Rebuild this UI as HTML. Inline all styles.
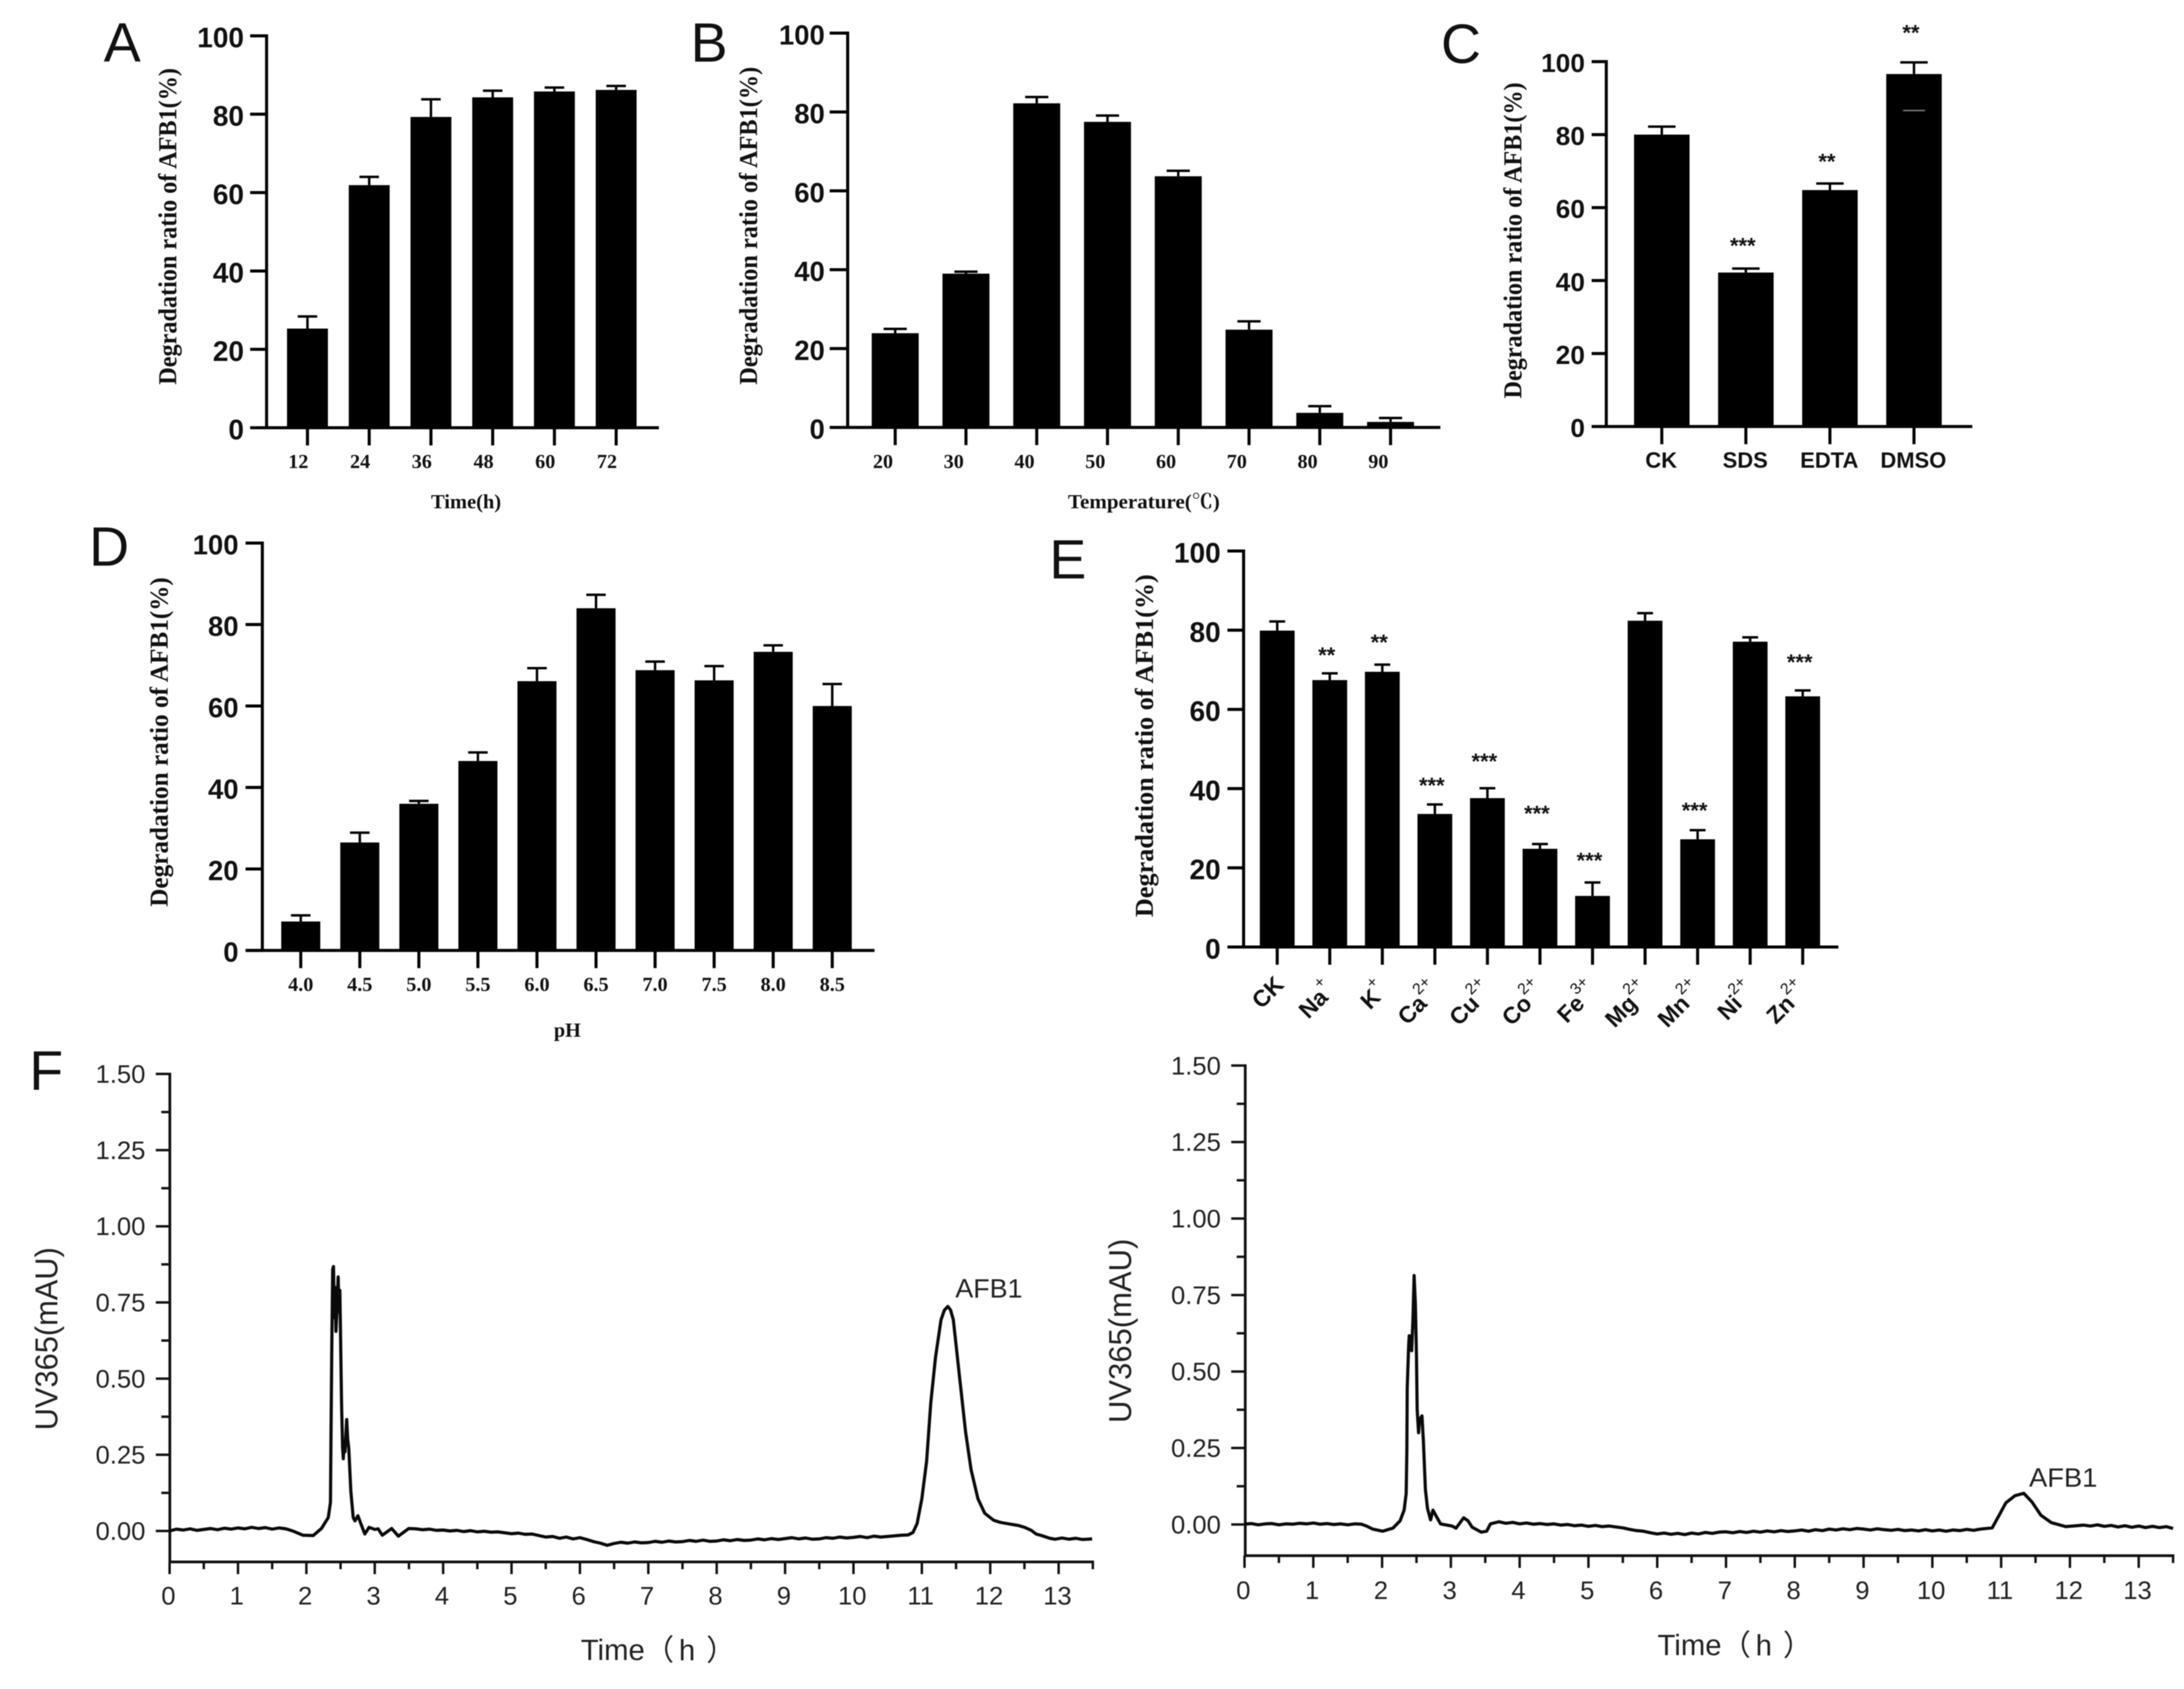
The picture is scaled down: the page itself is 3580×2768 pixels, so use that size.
<!DOCTYPE html>
<html lang="en">
<head>
<meta charset="utf-8">
<title>AFB1 degradation figure</title>
<style>
html,body{margin:0;padding:0;background:#fff;}
svg{display:block;filter:blur(0.7px);}
.letter{font:400 91px "Liberation Sans",sans-serif;fill:#111;}
.ytitle{font:700 42px "Liberation Serif","Noto Serif CJK SC",serif;fill:#111;text-anchor:middle;dominant-baseline:central;}
.xtitle{font:700 33px "Liberation Serif","Noto Serif CJK SC",serif;fill:#111;text-anchor:middle;dominant-baseline:central;}
.uvtitle{font:400 52px "Liberation Sans",sans-serif;fill:#222;text-anchor:middle;dominant-baseline:central;}
.timetitle{font:400 48px "Liberation Sans","Noto Sans CJK SC",sans-serif;fill:#222;dominant-baseline:central;}
.peak{font:400 44px "Liberation Sans",sans-serif;fill:#222;dominant-baseline:central;}
</style>
</head>
<body>
<svg id="figure" xmlns="http://www.w3.org/2000/svg" width="3580" height="2768" viewBox="0 0 3580 2768">
  <rect x="0" y="0" width="3580" height="2768" fill="#fff"/>

  <text class="letter" x="170" y="101">A</text>
  <text class="letter" x="1132" y="101">B</text>
  <text class="letter" x="2362" y="103">C</text>
  <text class="letter" x="146" y="927">D</text>
  <text class="letter" x="1720" y="948">E</text>
  <text class="letter" x="48" y="1786">F</text>

  <text class="ytitle" transform="rotate(-90 276 371)" x="276" y="371" textLength="519" lengthAdjust="spacingAndGlyphs">Degradation ratio of AFB1(%)</text>
  <text class="ytitle" transform="rotate(-90 1228 370)" x="1228" y="370" textLength="521" lengthAdjust="spacingAndGlyphs">Degradation ratio of AFB1(%)</text>
  <text class="ytitle" transform="rotate(-90 2481 394)" x="2481" y="394" textLength="518" lengthAdjust="spacingAndGlyphs">Degradation ratio of AFB1(%)</text>
  <text class="ytitle" transform="rotate(-90 262 1216)" x="262" y="1216" textLength="540" lengthAdjust="spacingAndGlyphs">Degradation ratio of AFB1(%)</text>
  <text class="ytitle" transform="rotate(-90 1877 1222)" x="1877" y="1222" textLength="562" lengthAdjust="spacingAndGlyphs">Degradation ratio of AFB1(%)</text>

  <text class="xtitle" x="764" y="823" textLength="115" lengthAdjust="spacingAndGlyphs">Time(h)</text>
  <text class="xtitle" x="1875" y="823" textLength="249" lengthAdjust="spacingAndGlyphs">Temperature(℃)</text>
  <text class="xtitle" x="930" y="1689">pH</text>

  <text class="uvtitle" transform="rotate(-90 77 2194)" x="77" y="2194" textLength="300" lengthAdjust="spacingAndGlyphs">UV365(mAU)</text>
  <text class="uvtitle" transform="rotate(-90 1837 2181)" x="1837" y="2181" textLength="302" lengthAdjust="spacingAndGlyphs">UV365(mAU)</text>
  <text class="timetitle" x="952" y="2705">Time（<tspan dx="8">h</tspan><tspan dx="18">）</tspan></text>
  <text class="timetitle" x="2717" y="2697">Time（<tspan dx="8">h</tspan><tspan dx="18">）</tspan></text>
  <text class="peak" x="1566" y="2112" textLength="110" lengthAdjust="spacingAndGlyphs">AFB1</text>
  <text class="peak" x="3326" y="2422" textLength="112" lengthAdjust="spacingAndGlyphs">AFB1</text>
</svg>

<script>
// ---------- Shared tick labels ----------
const percentTicks = [0, 20, 40, 60, 80, 100];
const uvTicks = [0, 0.25, 0.5, 0.75, 1, 1.25, 1.5];
const uvMinorTicks = [0.125, 0.375, 0.625, 0.875, 1.125, 1.375];
const timeTicks = [0, 1, 2, 3, 4, 5, 6, 7, 8, 9, 10, 11, 12, 13];
const timeMinorTicks = [0.5, 1.5, 2.5, 3.5, 4.5, 5.5, 6.5, 7.5, 8.5, 9.5, 10.5, 11.5, 12.5, 13.5];

// ---------- Panel A ----------
const timeCategories = ['12', '24', '36', '48', '60', '72'];
const timeValues = [25.3, 61.9, 79.3, 84.3, 85.8, 86.2];
const timeErrorTops = [28.4, 64, 83.8, 86, 86.8, 87.2];

// ---------- Panel B ----------
const tempCategories = ['20', '30', '40', '50', '60', '70', '80', '90'];
const tempValues = [23.9, 39, 82.2, 77.5, 63.7, 24.8, 3.7, 1.4];
const tempErrorTops = [25, 39.5, 83.8, 79.1, 65.1, 26.9, 5.4, 2.4];

// ---------- Panel C ----------
const agentCategories = ['CK', 'SDS', 'EDTA', 'DMSO'];
const agentValues = [80, 42.2, 64.8, 96.6];
const agentErrorTops = [82.2, 43.3, 66.6, 99.8];
const agentStars = ['', '***', '**', '**'];
const agentStarLevels = [0, 50.8, 73.9, 109.2];
const dmsoLowerCap = 86.6;

// ---------- Panel D ----------
const phCategories = ['4.0', '4.5', '5.0', '5.5', '6.0', '6.5', '7.0', '7.5', '8.0', '8.5'];
const phValues = [7.1, 26.5, 36, 46.5, 66.1, 84, 68.8, 66.3, 73.3, 60];
const phErrorTops = [8.6, 28.9, 36.7, 48.6, 69.3, 87.3, 70.9, 69.8, 74.9, 65.4];

// ---------- Panel E ----------
const ionNames = ['CK', 'Na', 'K', 'Ca', 'Cu', 'Co', 'Fe', 'Mg', 'Mn', 'Ni', 'Zn'];
const ionCharges = ['', '+', '+', '2+', '2+', '2+', '3+', '2+', '2+', '2+', '2+'];
const ionValues = [79.9, 67.4, 69.5, 33.6, 37.6, 24.8, 12.9, 82.4, 27.2, 77.1, 63.3];
const ionErrorTops = [82.2, 69.1, 71.3, 36, 40.1, 26, 16.3, 84.3, 29.5, 78.2, 64.8];
const ionStars = ['', '**', '**', '***', '***', '***', '***', '', '***', '', '***'];
const ionStarLevels = [0, 74.9, 78.1, 42, 48.1, 34.9, 23, 0, 35.7, 0, 73.1];

// ---------- Panel F left chromatogram ----------
const chromLeftTimes = [0,.1,.2,.3,.4,.5,.6,.7,.8,.9,1,1.1,1.2,1.3,1.4,1.5,1.6,1.7,1.8,1.95,2.1,2.22,2.32,2.352,2.361,2.373,2.385,2.397,2.408,2.418,2.433,2.45,2.465,2.478,2.49,2.5,2.515,2.53,2.54,2.555,2.565,2.59,2.605,2.62,2.65,2.685,2.71,2.754,2.81,2.855,2.917,3,3.05,3.11,3.247,3.345,3.497,3.6,3.7,3.8,3.9,4,4.1,4.2,4.3,4.4,4.5,4.6,4.7,4.8,4.9,5,5.1,5.2,5.3,5.4,5.5,5.6,5.7,5.8,5.9,6,6.1,6.2,6.3,6.4,6.5,6.6,6.7,6.8,6.9,7,7.1,7.2,7.3,7.4,7.5,7.6,7.7,7.8,7.9,8,8.1,8.2,8.3,8.4,8.5,8.6,8.7,8.8,8.9,9,9.1,9.2,9.3,9.4,9.5,9.6,9.7,9.8,9.9,10,10.1,10.2,10.3,10.4,10.5,10.6,10.7,10.8,10.87,10.93,11,11.07,11.13,11.2,11.28,11.33,11.38,11.42,11.46,11.54,11.64,11.72,11.82,11.92,12.05,12.15,12.25,12.41,12.5,12.6,12.67,12.75,12.87,12.95,13.05,13.15,13.25,13.35,13.49];
const chromLeftValues = [0,.006,.003,.007,.002,.005,.008,.004,.009,.006,.01,.007,.012,.008,.011,.006,.01,.007,0,-.014,-.015,.008,.044,.094,.344,.63,.86,.868,.7,.8,.655,.74,.834,.72,.79,.63,.416,.272,.237,.29,.26,.366,.3,.272,.13,.044,.033,.05,.016,-.01,.012,.005,.007,-.014,.008,-.017,.008,.007,.004,.006,.002,.003,0,.002,-.002,.001,-.003,-.001,-.004,-.003,-.006,-.009,-.007,-.011,-.01,-.015,-.02,-.018,-.024,-.02,-.026,-.022,-.028,-.035,-.04,-.047,-.041,-.037,-.04,-.036,-.039,-.038,-.034,-.037,-.033,-.036,-.035,-.031,-.034,-.03,-.034,-.033,-.029,-.032,-.028,-.031,-.03,-.026,-.029,-.025,-.028,-.025,-.022,-.026,-.023,-.027,-.026,-.022,-.024,-.02,-.023,-.021,-.018,-.022,-.017,-.02,-.018,-.016,-.014,-.013,-.005,.024,.106,.229,.42,.57,.693,.725,.737,.725,.693,.529,.325,.201,.106,.058,.035,.028,.024,.018,.012,.002,-.01,-.015,-.024,-.027,-.023,-.027,-.024,-.028,-.026];

// ---------- Panel F right chromatogram ----------
const chromRightTimes = [0,.1,.2,.3,.4,.5,.6,.7,.8,.9,1,1.1,1.2,1.3,1.4,1.5,1.6,1.7,1.774,1.863,2.01,2.157,2.262,2.32,2.35,2.36,2.365,2.386,2.395,2.42,2.43,2.448,2.466,2.484,2.5,2.51,2.53,2.545,2.58,2.6,2.63,2.66,2.705,2.74,2.79,2.85,3.016,3.076,3.186,3.25,3.31,3.44,3.52,3.575,3.7,3.8,3.9,4,4.1,4.2,4.3,4.4,4.5,4.6,4.7,4.8,4.9,5,5.1,5.2,5.3,5.4,5.5,5.6,5.7,5.8,5.9,6,6.1,6.2,6.3,6.4,6.5,6.6,6.7,6.8,6.9,7,7.1,7.2,7.3,7.4,7.5,7.6,7.7,7.8,7.9,8,8.1,8.2,8.3,8.4,8.5,8.6,8.7,8.8,8.9,9,9.1,9.2,9.3,9.4,9.5,9.6,9.7,9.8,9.9,10,10.1,10.2,10.3,10.4,10.5,10.6,10.7,10.87,10.97,11.07,11.2,11.33,11.45,11.58,11.73,11.94,12.1,12.2,12.3,12.4,12.5,12.6,12.7,12.8,12.9,13,13.1,13.2,13.3,13.4,13.5];
const chromRightValues = [.001,.003,-.001,.002,.003,-.001,.002,.001,.004,.002,.005,.001,.003,0,.002,-.001,.002,.001,-.005,-.015,-.022,-.012,.012,.047,.101,.238,.445,.582,.617,.613,.568,.665,.814,.719,.548,.376,.3,.342,.355,.273,.115,.053,.015,.047,.026,.002,-.005,-.012,.022,.012,-.009,-.025,-.022,.002,.009,.004,.007,.002,.005,.001,.003,0,.002,-.002,0,-.004,-.002,-.006,-.003,-.007,-.005,-.008,-.011,-.016,-.02,-.022,-.027,-.031,-.028,-.032,-.029,-.033,-.028,-.031,-.026,-.029,-.025,-.024,-.027,-.023,-.026,-.022,-.025,-.021,-.024,-.02,-.023,-.021,-.018,-.022,-.017,-.02,-.015,-.018,-.014,-.017,-.013,-.015,-.018,-.014,-.017,-.019,-.016,-.02,-.018,-.021,-.017,-.021,-.018,-.022,-.018,-.02,-.016,-.019,-.015,-.011,.03,.071,.094,.102,.073,.03,.006,-.007,-.004,-.002,-.005,-.001,-.006,-.003,-.008,-.004,-.009,-.005,-.01,-.006,-.01,-.007,-.013];

// ---------- Drawing helpers ----------
const svg = document.getElementById('figure');
const NS = 'http://www.w3.org/2000/svg';
const BAR_COLOR = '#000';

function make(tag, props) {
  const el = document.createElementNS(NS, tag);
  for (const k in props) el.setAttribute(k, props[k]);
  svg.appendChild(el);
  return el;
}

function line(x1, y1, x2, y2, width, color) {
  return make('line', { x1, y1, x2, y2, stroke: color || '#000', 'stroke-width': width });
}

function drawBarPanel(p) {
  const yScale = v => p.y0 - v * (p.y0 - p.y100) / 100;
  const xScale = i => p.x0 + i * p.step;

  const yAxis = line(p.axisX, p.y100 - 2.5, p.axisX, p.y0 + 2.5, 5);
  
  
  const xAxis = line(p.xAxisStart, p.y0, p.xAxisEnd, p.y0, 5);
  
  

  percentTicks.forEach(t => {
    const tick = line(p.xAxisStart, yScale(t), p.axisX, yScale(t), 5);
    
    
    const label = make('text', { x: p.yLabelRight, y: yScale(t) + 3, 'text-anchor': 'end', 'dominant-baseline': 'central', 'font-family': '"Liberation Sans",sans-serif', 'font-weight': 700, 'font-size': p.yFont, fill: '#111' });
    label.textContent = t;
    
    
  });

  p.values.forEach((v, i) => {
    const cx = xScale(i);
    const tick = line(cx, p.y0, cx, p.y0 + 29, 5);
    
    

    const stem = line(cx, yScale(p.errors[i]), cx, yScale(v), 4);
    
    
    const cap = line(cx - p.capW / 2, yScale(p.errors[i]), cx + p.capW / 2, yScale(p.errors[i]), 4);
    
    

    const bar = make('rect', { x: cx - p.barW / 2, y: yScale(v), width: p.barW, height: p.y0 - yScale(v), fill: BAR_COLOR });
    
    

    if (p.categories) {
      const lab = make('text', { x: cx + p.labelDx, y: p.labelY, 'text-anchor': 'middle', 'dominant-baseline': 'central', 'font-family': p.labelFamily, 'font-weight': 700, 'font-size': p.labelFont, fill: '#111' });
      lab.textContent = p.categories[i];
      
      
    }

    if (p.stars && p.stars[i]) {
      const star = make('text', { x: cx + p.starDx, y: yScale(p.starLevels[i]) + 20, 'text-anchor': 'middle', 'font-family': '"Liberation Sans",sans-serif', 'font-weight': 700, 'font-size': 36, fill: '#111' });
      star.textContent = p.stars[i];
      
      
    }
  });
  return { xScale, yScale };
}

function drawChromatogram(c) {
  const xScale = t => c.x0 + t * c.xUnit;
  const yScale = v => c.y0 - v * c.yUnit;

  const yAxis = line(c.axisX, yScale(1.5) - 2, c.axisX, c.bottom + 2, 4.5, '#111');
  
  
  const xAxis = line(c.axisX, c.bottom, xScale(13.5) + 2, c.bottom, 4.5, '#111');
  
  

  uvTicks.forEach(t => {
    const tick = line(c.axisX - 23, yScale(t), c.axisX, yScale(t), 4, '#111');
    
    
    const label = make('text', { x: c.axisX - 40, y: yScale(t), 'text-anchor': 'end', 'dominant-baseline': 'central', 'font-family': '"Liberation Sans",sans-serif', 'font-size': 42, fill: '#222' });
    label.textContent = t.toFixed(2);
    
    
  });
  uvMinorTicks.forEach(t => {
    const tick = line(c.axisX - 14, yScale(t), c.axisX, yScale(t), 4, '#111');
    
    
  });
  timeTicks.forEach(t => {
    const tick = line(xScale(t), c.bottom, xScale(t), c.bottom + 20, 4, '#111');
    
    
    const label = make('text', { x: xScale(t) - 2, y: c.labelY, 'text-anchor': 'middle', 'dominant-baseline': 'central', 'font-family': '"Liberation Sans",sans-serif', 'font-size': 42, fill: '#222' });
    label.textContent = t;
    
    
  });
  timeMinorTicks.forEach(t => {
    const tick = line(xScale(t), c.bottom, xScale(t), c.bottom + 12, 4, '#111');
    
    
  });

  const d = c.times.map((t, i) => (i ? 'L' : 'M') + xScale(t).toFixed(1) + ' ' + yScale(c.values[i]).toFixed(1)).join('');
  const trace = make('path', { d, fill: 'none', stroke: '#0a0a0a', 'stroke-width': 5.2, 'stroke-linejoin': 'round' });
  
  
}

const SERIF = '"Liberation Serif",serif';
const SANS = '"Liberation Sans",sans-serif';

drawBarPanel({ id: 'panel-a', categories: timeCategories, values: timeValues, errors: timeErrorTops,
  x0: 504, step: 101.2, barW: 67, capW: 32, y0: 701, y100: 58.7, axisX: 437, xAxisStart: 410, xAxisEnd: 1080,
  yLabelRight: 400, yFont: 46, labelDx: -15, labelY: 757, labelFont: 33, labelFamily: SERIF });

drawBarPanel({ id: 'panel-b', categories: tempCategories, values: tempValues, errors: tempErrorTops,
  x0: 1467.4, step: 116, barW: 77, capW: 38, y0: 700.5, y100: 54.3, axisX: 1389.5, xAxisStart: 1360, xAxisEnd: 2361,
  yLabelRight: 1352, yFont: 45, labelDx: -20, labelY: 757, labelFont: 33, labelFamily: SERIF });

const panelC = drawBarPanel({ id: 'panel-c', categories: agentCategories, values: agentValues, errors: agentErrorTops,
  stars: agentStars, starLevels: agentStarLevels, starDx: -5,
  x0: 2724, step: 137.8, barW: 91, capW: 45, y0: 699, y100: 101, axisX: 2633, xAxisStart: 2609, xAxisEnd: 3233,
  yLabelRight: 2598, yFont: 43, labelDx: -1, labelY: 754, labelFont: 36, labelFamily: SANS });
const dmsoCap = line(panelC.xScale(3) - 18, panelC.yScale(dmsoLowerCap), panelC.xScale(3) + 18, panelC.yScale(dmsoLowerCap), 2.5, '#777');



drawBarPanel({ id: 'panel-d', categories: phCategories, values: phValues, errors: phErrorTops,
  x0: 493, step: 96.8, barW: 64, capW: 32, y0: 1557.6, y100: 890, axisX: 430, xAxisStart: 402.5, xAxisEnd: 1433.5,
  yLabelRight: 391, yFont: 45, labelDx: 0, labelY: 1614, labelFont: 33, labelFamily: SERIF });

const panelE = drawBarPanel({ id: 'panel-e', values: ionValues, errors: ionErrorTops,
  stars: ionStars, starLevels: ionStarLevels, starDx: -5,
  x0: 2093.6, step: 86.14, barW: 57, capW: 26, y0: 1552, y100: 903, axisX: 2038.5, xAxisStart: 2012, xAxisEnd: 3013.5,
  yLabelRight: 2001, yFont: 46 });

ionNames.forEach((name, i) => {
  const charged = ionCharges[i] !== '';
  const ax = panelE.xScale(i) + (charged ? 10 : 13);
  const ay = charged ? 1626 : 1616;
  const lab = make('text', { x: ax, y: ay, 'text-anchor': 'end', transform: 'rotate(-45 ' + ax + ' ' + ay + ')', 'font-family': SANS, 'font-weight': 700, 'font-size': 38, fill: '#111' });
  
  
  lab.appendChild(document.createTextNode(name));
  if (charged) {
    const sup = document.createElementNS(NS, 'tspan');
    sup.setAttribute('dy', '-22');
    sup.setAttribute('font-size', '26');
    sup.setAttribute('font-weight', '400');
    sup.textContent = ionCharges[i];
    lab.appendChild(sup);
  }
});

drawChromatogram({ id: 'panel-f-left', times: chromLeftTimes, values: chromLeftValues,
  x0: 278, xUnit: 112.1, y0: 2509, yUnit: 499.3, axisX: 278.4, bottom: 2559.7, labelY: 2615 });

drawChromatogram({ id: 'panel-f-right', times: chromRightTimes, values: chromRightValues,
  x0: 2040, xUnit: 112.75, y0: 2498.4, yUnit: 501.4, axisX: 2041.2, bottom: 2549.5, labelY: 2606 });
</script>
</body>
</html>
